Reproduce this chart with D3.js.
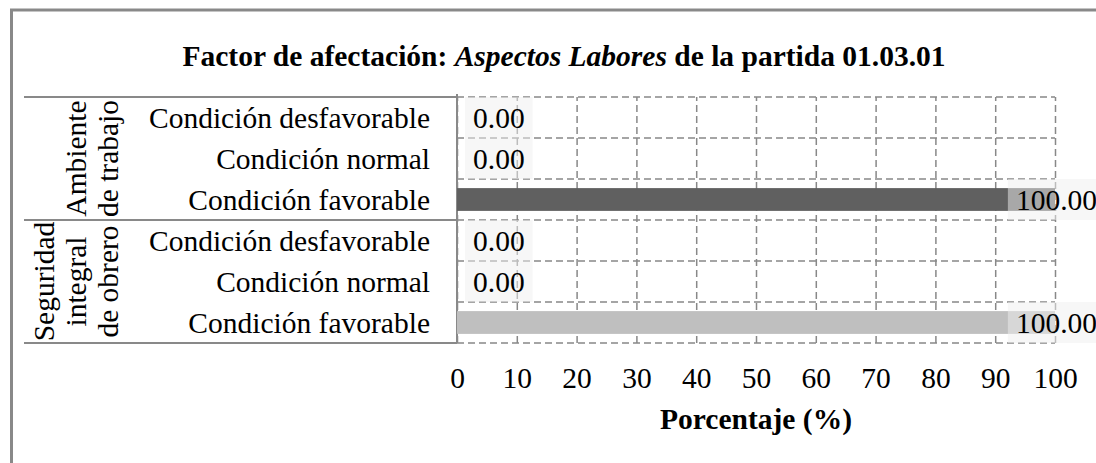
<!DOCTYPE html>
<html>
<head>
<meta charset="utf-8">
<script src="https://cdn.jsdelivr.net/npm/d3@7"></script>
<style>
    body { margin: 0; background: #fff; }
    svg text { font-family: "Liberation Serif", "Times New Roman", serif; fill: #000; }
</style>
</head>
<body>
<div id="chart"></div>
<script>

// data
const conditions = ['Condición desfavorable', 'Condición normal', 'Condición favorable'];
const groupNames = ['Ambiente de trabajo', 'Seguridad integral de obrero'];
const groupLines = [['Ambiente', 'de trabajo'], ['Seguridad', 'integral', 'de obrero']];
const ambienteValues = [0, 0, 100];
const seguridadValues = [0, 0, 100];
const barColors = ['#606060', '#bfbfbf'];
const xTicks = [0, 10, 20, 30, 40, 50, 60, 70, 80, 90, 100];


class BarVis {

    constructor(parentElement) {
        this.parentElement = parentElement;

        this.rows = [];
        [ambienteValues, seguridadValues].forEach((values, g) => {
            values.forEach((v, i) => {
                this.rows.push({
                    key: g + '|' + i,
                    group: g,
                    label: conditions[i],
                    value: v,
                    color: barColors[g]
                });
            });
        });

        this.initVis();
    }

    initVis() {
        let vis = this;

        vis.width = 1096;
        vis.height = 463;
        vis.fontSize = 29.5;
        vis.chartRight = 1105;

        vis.svg = d3.select('#' + vis.parentElement).append('svg')
            .attr('width', vis.width)
            .attr('height', vis.height);

        // outer frame (right and bottom edges fall outside the picture)
        vis.svg.append('rect')
            .attr('x', 11.5)
            .attr('y', 10)
            .attr('width', 2000)
            .attr('height', 2000)
            .attr('fill', 'none')
            .attr('stroke', '#898989')
            .attr('stroke-width', 3);

        // title
        let title = vis.svg.append('text')
            .attr('x', 564)
            .attr('y', 66)
            .attr('text-anchor', 'middle')
            .attr('font-size', vis.fontSize)
            .attr('font-weight', 'bold');
        title.append('tspan').text('Factor de afectación: ');
        title.append('tspan').attr('font-style', 'italic').text('Aspectos Labores');
        title.append('tspan').text(' de la partida 01.03.01');

        // scales
        vis.x = d3.scaleLinear()
            .domain([0, 100])
            .range([457, 1055]);

        vis.y = d3.scaleBand()
            .domain(vis.rows.map(d => d.key))
            .range([97, 343])
            .padding(0);

        vis.updateVis();
    }

    updateVis() {
        let vis = this;
        let top = vis.y.range()[0], bottom = vis.y.range()[1];
        let bw = vis.y.bandwidth();
        let barH = bw / 1.8;

        // vertical grid + tick labels
        vis.xAxisGroup = vis.svg.append('g')
            .attr('class', 'axis x-axis')
            .attr('transform', `translate(0, ${bottom})`)
            .call(d3.axisBottom(vis.x).tickValues(xTicks).tickSize(-(bottom - top)).tickFormat(d3.format('d')));

        vis.xAxisGroup.select('.domain').remove();
        vis.xAxisGroup.selectAll('line')
            .attr('stroke', '#888')
            .attr('stroke-width', 1.5)
            .attr('stroke-dasharray', '7,4');
        vis.xAxisGroup.selectAll('text')
            .attr('y', 45)
            .attr('dy', null)
            .attr('font-size', vis.fontSize)
            .attr('font-family', '"Liberation Serif", "Times New Roman", serif')
            .attr('fill', '#000');

        // horizontal grid on the row edges
        let edges = vis.rows.map(d => vis.y(d.key)).concat([bottom]);
        vis.svg.append('g').selectAll('line')
            .data(edges)
            .enter().append('line')
            .attr('x1', vis.x(0))
            .attr('x2', vis.x(100))
            .attr('y1', d => d)
            .attr('y2', d => d)
            .attr('stroke', '#888')
            .attr('stroke-width', 1.5)
            .attr('stroke-dasharray', '7,4');

        // category axis lines
        let sep = vis.svg.append('g').attr('stroke', '#898989').attr('stroke-width', 2);
        sep.append('line')
            .attr('x1', vis.x(0)).attr('x2', vis.x(0))
            .attr('y1', top - 3).attr('y2', bottom);
        let groupEdges = [top];
        groupNames.forEach((g, i) => {
            let last = vis.rows.filter(d => d.group === i).pop();
            groupEdges.push(vis.y(last.key) + bw);
        });
        sep.selectAll('.gline')
            .data(groupEdges)
            .enter().append('line')
            .attr('class', 'gline')
            .attr('x1', 24)
            .attr('x2', vis.x(0))
            .attr('y1', d => d)
            .attr('y2', d => d);

        // bars
        vis.svg.append('g').selectAll('rect')
            .data(vis.rows)
            .enter().append('rect')
            .attr('x', vis.x(0))
            .attr('y', d => vis.y(d.key) + (bw - barH) / 2)
            .attr('width', d => vis.x(d.value) - vis.x(0))
            .attr('height', barH)
            .attr('fill', d => d.color);

        // value labels with light box
        let labels = vis.svg.append('g').selectAll('g')
            .data(vis.rows)
            .enter().append('g');

        labels.append('rect').attr('class', 'lbox');
        labels.append('text')
            .attr('font-size', vis.fontSize)
            .attr('y', d => vis.y(d.key) + bw / 2 + 10)
            .text(d => d.value.toFixed(2));

        labels.each(function (d) {
            let g = d3.select(this);
            let tw = g.select('text').node().getComputedTextLength();
            let boxW = tw + 16;
            let bx = Math.min(vis.x(d.value) + 8, vis.chartRight - boxW);
            g.select('rect')
                .attr('x', bx)
                .attr('y', vis.y(d.key))
                .attr('width', boxW)
                .attr('height', bw)
                .attr('fill', 'rgba(239,239,239,0.5)');
            g.select('text').attr('x', bx + 8);
        });

        // category labels
        vis.svg.append('g').selectAll('text')
            .data(vis.rows)
            .enter().append('text')
            .attr('x', 430)
            .attr('y', d => vis.y(d.key) + bw / 2 + 10)
            .attr('text-anchor', 'end')
            .attr('font-size', vis.fontSize)
            .text(d => d.label);

        // group labels, rotated, last line kept next to the category labels
        groupLines.forEach((lines, i) => {
            let rowsIn = vis.rows.filter(d => d.group === i);
            let cy = (vis.y(rowsIn[0].key) + vis.y(rowsIn[rowsIn.length - 1].key) + bw) / 2;
            lines.forEach((line, j) => {
                let bx = 118 - (lines.length - 1 - j) * 32;
                vis.svg.append('text')
                    .attr('transform', `translate(${bx}, ${cy}) rotate(-90)`)
                    .attr('text-anchor', 'middle')
                    .attr('font-size', vis.fontSize)
                    .text(line);
            });
        });

        // axis title
        vis.svg.append('text')
            .attr('x', (vis.x(0) + vis.x(100)) / 2)
            .attr('y', 429)
            .attr('text-anchor', 'middle')
            .attr('font-size', vis.fontSize)
            .attr('font-weight', 'bold')
            .text('Porcentaje (%)');
    }
}

let barVis = new BarVis('chart');

</script>
</body>
</html>
